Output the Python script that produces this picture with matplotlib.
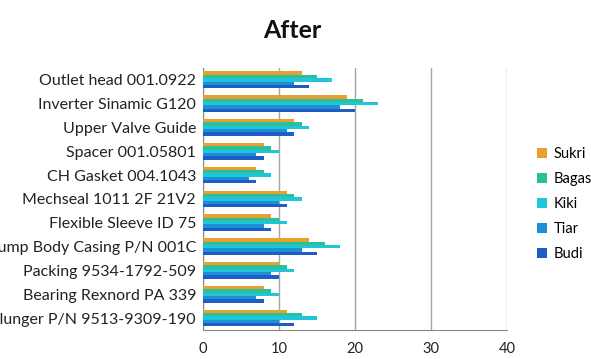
import matplotlib
matplotlib.use("Agg")
import matplotlib.pyplot as plt
import numpy as np

categories = ["Outlet head 001.0922", "Inverter Sinamic G120", "Upper Valve Guide",
              "Spacer 001.05801", "CH Gasket 004.1043", "Mechseal 1011 2F 21V2",
              "Flexible Sleeve ID 75", "Pump Body Casing P/N 001C", "Packing 9534-1792-509",
              "Bearing Rexnord PA 339", "Plunger P/N 9513-9309-190"]
series_names = ["Sukri", "Bagas", "Kiki", "Tiar", "Budi"]
sukri = [13, 19, 12, 8, 7, 11, 9, 14, 10, 8, 11]
bagas = [15, 21, 13, 9, 8, 12, 10, 16, 11, 9, 13]
kiki = [17, 23, 14, 10, 9, 13, 11, 18, 12, 10, 15]
tiar = [12, 18, 11, 7, 6, 10, 8, 13, 9, 7, 10]
budi = [14, 20, 12, 8, 7, 11, 9, 15, 10, 8, 12]
xticks = [0, 10, 20, 30, 40]

colors = ["#E9A030", "#2CC09A", "#1FC6DA", "#1C8FD6", "#1F5DC4"]
values = [sukri, bagas, kiki, tiar, budi]

plt.rcParams['font.family'] = ['Lato', 'DejaVu Sans']

fig = plt.figure(figsize=(5.91, 3.59), dpi=100)
ax = fig.add_axes([0.3435, 0.0808, 0.5145, 0.7300])

n = len(categories)
ns = len(series_names)
bh = 0.14
y = np.arange(n)
for i, (name, vals, c) in enumerate(zip(series_names, values, colors)):
    offs = (i - (ns - 1) / 2) * bh
    ax.barh(y + offs, vals, height=bh, color=c, label=name, zorder=3)

ax.set_ylim(n - 0.5, -0.5)
ax.set_xlim(0, 40)
ax.set_xticks(xticks)
ax.set_yticks(y)
ax.set_yticklabels(categories, fontsize=11.5, color="#222222")
ax.tick_params(axis='x', labelsize=10.5, colors="#222222", length=0, pad=9)
ax.tick_params(axis='y', length=0, pad=5)
ax.xaxis.grid(True, color="#A6A6A6", linewidth=1.0, zorder=0)
for s in ["top", "right"]:
    ax.spines[s].set_visible(False)
ax.spines["left"].set_color("#888888")
ax.spines["bottom"].set_color("#888888")

fig.text(0.494, 0.915, "After", ha="center", va="center", fontsize=18, fontweight="bold", color="#111111")

leg = fig.legend(loc="center left", bbox_to_anchor=(0.898, 0.432), frameon=False,
                 fontsize=10.5, handlelength=0.7, handleheight=0.7, labelspacing=0.75,
                 handletextpad=0.5, borderaxespad=0)

fig.savefig("out.png", dpi=100)
